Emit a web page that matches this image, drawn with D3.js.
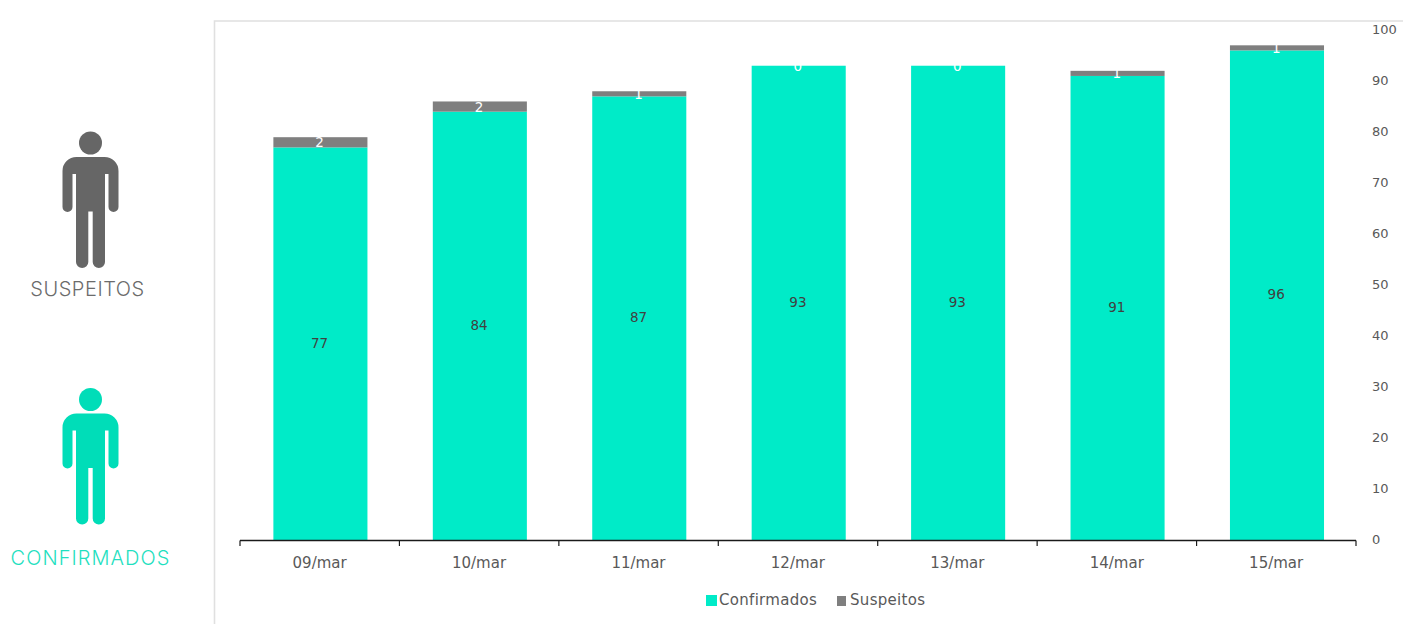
<!DOCTYPE html>
<html><head><meta charset="utf-8">
<script src="https://cdn.jsdelivr.net/npm/d3@7/dist/d3.min.js"></script>
<style>html,body{margin:0;padding:0;background:#fff;overflow:hidden}svg{display:block}
text{font-family:"DejaVu Sans",sans-serif}</style></head><body>
<script>
const categories=["09/mar","10/mar","11/mar","12/mar","13/mar","14/mar","15/mar"];
const confirmados=[77,84,87,93,93,91,96];
const suspeitos=[2,2,1,0,0,1,1];
const yTicks=[0,10,20,30,40,50,60,70,80,90,100];
const seriesNames=["Confirmados","Suspeitos"];
const sideLabels=["SUSPEITOS","CONFIRMADOS"];

const W=1403,H=624;
const svg=d3.select("body").append("svg").attr("width",W).attr("height",H);
const x=d3.scaleBand().domain(categories).range([240.7,1356.7]).paddingInner(0.41).paddingOuter(0.205);
const y=d3.scaleLinear().domain([0,100]).range([540.5,30]);
const TEAL="#00EBC8",GRAY="#7F7F7F",TXT="#595959";

// frame
svg.append("path").attr("d",`M214.5,${H}V21H${W}`).attr("fill","none").attr("stroke","#E0E0E0").attr("stroke-width",1.6);

// bars
svg.append("g").selectAll("rect").data(categories).join("rect")
 .attr("x",d=>x(d)).attr("width",x.bandwidth())
 .attr("y",(d,i)=>y(confirmados[i])).attr("height",(d,i)=>y(0)-y(confirmados[i])).attr("fill",TEAL);
svg.append("g").selectAll("rect").data(categories).join("rect")
 .attr("x",d=>x(d)).attr("width",x.bandwidth())
 .attr("y",(d,i)=>y(confirmados[i]+suspeitos[i])).attr("height",(d,i)=>y(confirmados[i])-y(confirmados[i]+suspeitos[i])).attr("fill",GRAY);

// data labels
const lab=svg.append("g").attr("font-size",13.5).attr("text-anchor","middle").style("font-family","'DejaVu Sans',sans-serif");
lab.selectAll("text.c").data(categories).join("text").attr("class","c")
 .attr("x",d=>x(d)+x.bandwidth()/2-0.8).attr("y",(d,i)=>y(confirmados[i]/2)+4).attr("fill","#404040")
 .text((d,i)=>confirmados[i]);
lab.selectAll("text.s").data(categories).join("text").attr("class","s")
 .attr("x",d=>x(d)+x.bandwidth()/2-0.8).attr("y",(d,i)=>y(confirmados[i]+suspeitos[i]/2)+5).attr("fill","#FFFFFF")
 .text((d,i)=>suspeitos[i]);

// x axis
const xAxis=svg.append("g").attr("transform","translate(0,540.5)");
xAxis.append("path").attr("d","M240,0H1356").attr("stroke","#1a1a1a").attr("stroke-width",1.6).attr("fill","none");
const edges=categories.map(d=>x(d)-x.step()*0.205).concat([1356.7]);
xAxis.selectAll("line").data(edges).join("line").attr("x1",d=>d-0.7).attr("x2",d=>d-0.7).attr("y1",0).attr("y2",5.5).attr("stroke","#1a1a1a").attr("stroke-width",1.2);
xAxis.selectAll("text").data(categories).join("text").attr("x",d=>x(d)+x.bandwidth()/2-0.8).attr("y",27)
 .attr("text-anchor","middle").attr("font-size",15).attr("fill",TXT).text(d=>d);

// y axis
const yAxis=svg.append("g").attr("transform","translate(1372,-1)").call(d3.axisRight(y).tickValues(yTicks).tickSize(0).tickPadding(0));
yAxis.select(".domain").remove();
yAxis.selectAll("text").attr("font-size",13).attr("fill",TXT).style("font-family","'DejaVu Sans',sans-serif");

// legend
const leg=svg.append("g");
[[706,719,TEAL,11,11],[837,850,GRAY,9,10]].forEach((p,i)=>{
 leg.append("rect").attr("x",p[0]).attr("y",i?596:595).attr("width",p[3]).attr("height",p[4]).attr("fill",p[2]);
 leg.append("text").attr("x",p[1]).attr("y",605).attr("font-size",15).attr("letter-spacing",0.3).attr("fill",TXT).text(seriesNames[i]);
});

// people icons
function person(cy,color){
 const g=svg.append("g").attr("transform",`translate(90.5,${cy})`).attr("fill",color);
 g.append("circle").attr("r",11.5);
 g.append("path").attr("d","M-14,14 H14 A14,14 0 0 1 28,28 V64 a5,5 0 0 1 -10,0 V31 H14.5 V119 a6.15,6 0 0 1 -12.3,0 V68.5 H-2.2 V119 a6.15,6 0 0 1 -12.3,0 V31 H-18 V64 a5,5 0 0 1 -10,0 V28 A14,14 0 0 1 -14,14Z");
}
person(143,"#666666");
person(399.5,"#00DDB8");
svg.append("text").attr("x",87.5).attr("y",296).attr("text-anchor","middle").attr("font-size",20).attr("letter-spacing",0.55).attr("fill","#6b6b6b").style("font-family","Inter,sans-serif").attr("font-weight",300).text(sideLabels[0]);
svg.append("text").attr("x",90.5).attr("y",565).attr("text-anchor","middle").attr("font-size",20).attr("letter-spacing",1.05).attr("fill","#1FE0C0").style("font-family","Inter,sans-serif").attr("font-weight",300).text(sideLabels[1]);
</script></body></html>
